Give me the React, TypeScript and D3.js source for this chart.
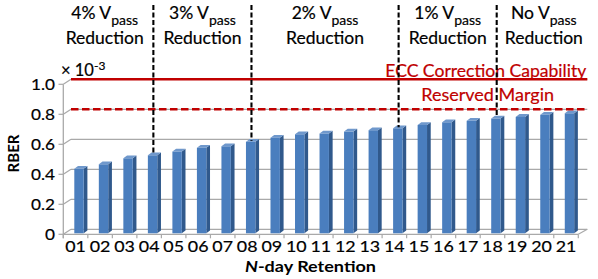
import React from "react";
import * as d3 from "d3";

// ---- data ----
const categories = ["01","02","03","04","05","06","07","08","09","10","11","12","13","14","15","16","17","18","19","20","21"];
const rberValues = [0.43,0.46,0.50,0.52,0.545,0.57,0.58,0.61,0.637,0.66,0.665,0.678,0.687,0.70,0.722,0.74,0.75,0.765,0.776,0.79,0.80];
const yTicks = [0, 0.2, 0.4, 0.6, 0.8, 1.0];
const yTickLabels = ["0", "0.2", "0.4", "0.6", "0.8", "1.0"];
const eccCapability = 1.0;
const reservedMargin = 0.8;
const dividerCategories = ["04", "08", "14", "18"];
const sectionPrefixes = ["4%", "3%", "2%", "1%", "No"];

const FONT = "Lato, 'Open Sans', sans-serif";
const RED = "#C00000";
const GRID = "#A9A9A9";
const HEAVY = { stroke: "currentColor", strokeWidth: 0.2 } as const;

export default function App() {
  const x = d3.scaleBand<string>().domain(categories).range([63.3, 578.3]).paddingInner(0).paddingOuter(0);
  const y = d3.scaleLinear().domain([0, 1]).range([234.3, 84.3]);
  const DX = 7.7, DY = -5; // back wall offset
  const backLeft = 63.3 + DX, backRight = 578.3 + 9;
  const yb = (v: number) => y(v) + DY;

  const barBottom = y(0) - 1;
  const barOff = 11, bw = 9.4, bdx = 3.7, bdy = 2.8;
  const barTop = (v: number) => barBottom - (y(0) - y(v));
  const divX = (c: string) => (x(c) as number) + 16.5;

  const divXs = dividerCategories.map(divX);
  const bounds = [56, ...divXs, 591];
  const centers = sectionPrefixes.map((_, i) => (bounds[i] + bounds[i + 1]) / 2);

  const boundaries = d3.range(categories.length + 1).map((i) => 63.3 + i * x.bandwidth());

  return (
    <svg width={598} height={279} style={{ position: "absolute", left: 0, top: 0, background: "#fff" }}>
      {/* back wall gridlines */}
      {yTicks.map((t) => (
        <line key={"g" + t} x1={backLeft} x2={backRight} y1={yb(t)} y2={yb(t)} stroke={GRID} strokeWidth={1.3} />
      ))}
      {/* tick diagonals */}
      {yTicks.map((t) => (
        <line key={"d" + t} x1={63.3} x2={backLeft} y1={y(t)} y2={yb(t)} stroke={GRID} strokeWidth={1.2} />
      ))}
      {/* y axis line and ticks */}
      <line x1={63.3} x2={63.3} y1={y(1)} y2={y(0) + 4} stroke={GRID} strokeWidth={1.3} />
      {yTicks.map((t) => (
        <line key={"t" + t} x1={58.5} x2={63.3} y1={y(t)} y2={y(t)} stroke={GRID} strokeWidth={1.2} />
      ))}
      {/* floor front edge */}
      <line x1={63.3} x2={578.3} y1={y(0)} y2={y(0)} stroke={GRID} strokeWidth={1.3} />
      <line x1={578.3} x2={backRight} y1={y(0)} y2={yb(0)} stroke={GRID} strokeWidth={1.2} />
      {boundaries.map((bx, i) => (
        <line key={"xt" + i} x1={bx} x2={bx} y1={y(0)} y2={y(0) + 4} stroke={GRID} strokeWidth={1.2} />
      ))}

      {/* bars */}
      {categories.map((c, i) => {
        const v = rberValues[i];
        const bx = (x(c) as number) + barOff;
        const top = barTop(v);
        return (
          <g key={"b" + c}>
            <polygon
              points={`${bx + bw},${top} ${bx + bw + bdx},${top - bdy} ${bx + bw + bdx},${barBottom - bdy} ${bx + bw},${barBottom}`}
              fill="#30598C"
            />
            <polygon
              points={`${bx},${top} ${bx + bdx},${top - bdy} ${bx + bw + bdx},${top - bdy} ${bx + bw},${top}`}
              fill="#6F98CC"
            />
            <rect x={bx} y={top} width={bw} height={barBottom - top} fill="#4A7EBE" />
          </g>
        );
      })}

      {/* red reference lines */}
      <line x1={backLeft} x2={backRight} y1={yb(eccCapability)} y2={yb(eccCapability)} stroke={RED} strokeWidth={2.6} />
      <line x1={backLeft} x2={backRight} y1={yb(reservedMargin)} y2={yb(reservedMargin)} stroke={RED} strokeWidth={2.6} strokeDasharray="7.5 3.5" />
      <g style={{ color: RED }}>
        <text x={385.3} y={76.5} fontFamily={FONT} fontSize={17.5} fill={RED} {...HEAVY} textLength={201} lengthAdjust="spacingAndGlyphs">
          ECC Correction Capability
        </text>
        <text x={421.3} y={101} fontFamily={FONT} fontSize={17.5} fill={RED} {...HEAVY} textLength={132.7} lengthAdjust="spacingAndGlyphs">
          Reserved Margin
        </text>
      </g>

      {/* dividers */}
      {dividerCategories.map((c) => {
        const i = categories.indexOf(c);
        return (
          <line key={"dv" + c} x1={divX(c)} x2={divX(c)} y1={5} y2={barTop(rberValues[i]) - 1} stroke="#000" strokeWidth={2.1} strokeDasharray="5 2.5" />
        );
      })}

      <g style={{ color: "#000" }}>
        {/* section labels */}
        {sectionPrefixes.map((p, i) => (
          <g key={"s" + i} fontFamily={FONT} fill="#000">
            <text x={centers[i]} y={19.3} fontSize={17.5} textAnchor="middle" {...HEAVY}>
              {p + " V"}
              <tspan fontSize={14} dy={5.2}>pass</tspan>
            </text>
            <text x={centers[i]} y={44.3} fontSize={17.5} textAnchor="middle" {...HEAVY} textLength={78} lengthAdjust="spacingAndGlyphs">
              Reduction
            </text>
          </g>
        ))}

        {/* y tick labels */}
        {yTicks.map((t, i) => (
          <text key={"yl" + t} x={55} y={y(t) + 6} fontFamily={FONT} fontSize={16} textAnchor="end" fill="#000" {...HEAVY}
            textLength={yTickLabels[i].length === 1 ? 10 : 24} lengthAdjust="spacingAndGlyphs">
            {yTickLabels[i]}
          </text>
        ))}
        {/* scale note */}
        <text x={61} y={75.7} fontFamily={FONT} fontSize={16.5} fill="#000" {...HEAVY}>
          {"× 10"}
          <tspan fontSize={12} dy={-6}>-3</tspan>
        </text>

        {/* x tick labels */}
        {categories.map((c) => (
          <text key={"xl" + c} x={(x(c) as number) + x.bandwidth() / 2} y={252.3} fontFamily={FONT} fontSize={16}
            textAnchor="middle" fill="#000" {...HEAVY} textLength={20.7} lengthAdjust="spacingAndGlyphs">
            {c}
          </text>
        ))}

        {/* axis titles */}
        <text x={245} y={271.7} fontFamily={FONT} fontSize={15} fontWeight="bold" fill="#000" textLength={131} lengthAdjust="spacingAndGlyphs">
          <tspan fontStyle="italic">N</tspan>-day Retention
        </text>
        <text transform="translate(19,153.5) rotate(-90)" fontFamily={FONT} fontSize={15} fontWeight="bold" fill="#000"
          textAnchor="middle">
          RBER
        </text>
      </g>
    </svg>
  );
}
